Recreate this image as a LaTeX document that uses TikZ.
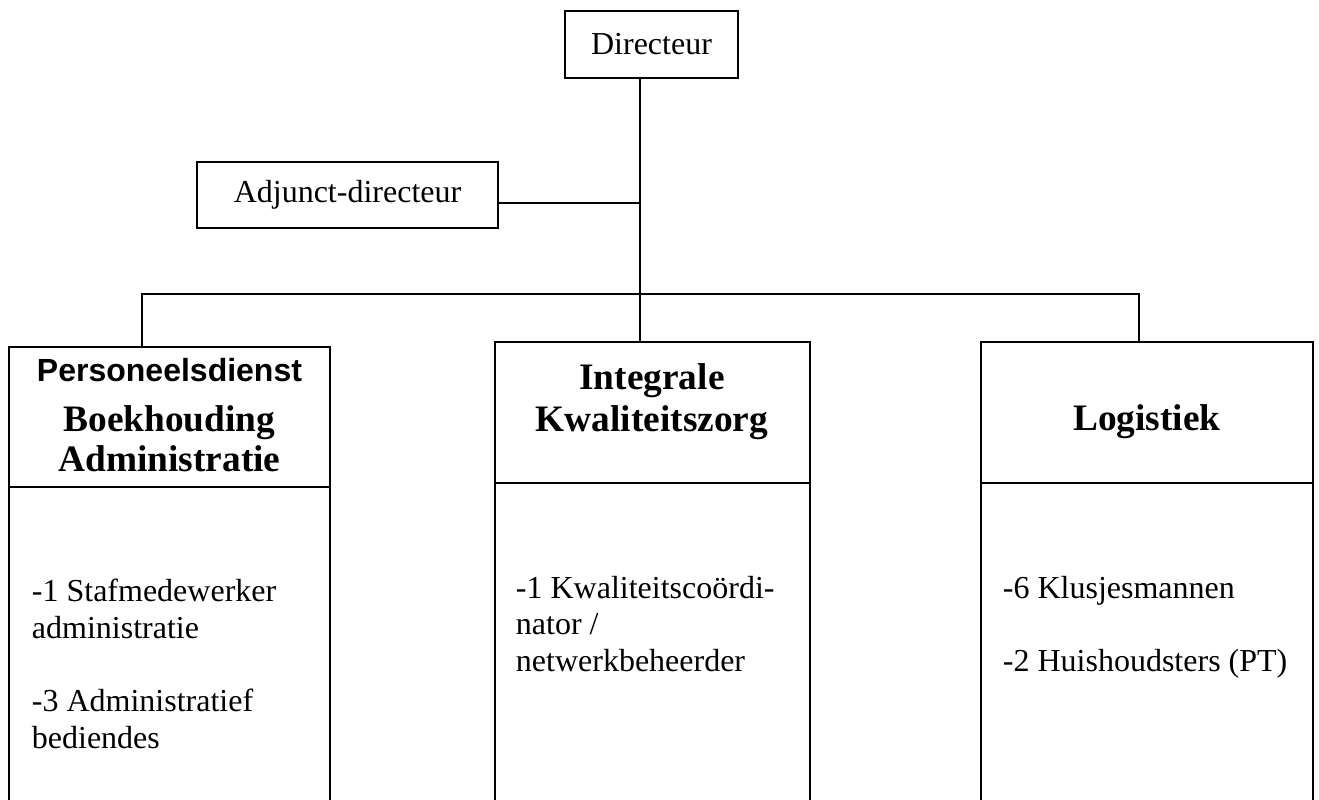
\documentclass[tikz,border=0pt]{standalone}
\usepackage{fontspec}
\setmainfont{Liberation Serif}
\newfontfamily\arialfont{Liberation Sans}
\usepackage{tikz}

\begin{document}
\begin{tikzpicture}[
        x=0.375pt, y=-0.375pt,
        line width=0.7pt,
        box/.style={draw, rectangle, inner sep=0pt},
        title/.style={inner sep=0pt, align=center, font=\bfseries\fontsize{14}{15.75}\selectfont},
        staff/.style={inner sep=0pt, align=left, anchor=north west, font=\fontsize{12}{13.8}\selectfont},
    ]
    \useasboundingbox (0,0) rectangle (1319,800);
    \clip (0,0) rectangle (1319,800);

    % top of the chart
    \node[box, minimum width=64.875pt, minimum height=25.125pt, font=\fontsize{12}{13.8}\selectfont] (dir) at (651.5,44.5) {Directeur};
    \node[box, minimum width=112.875pt, minimum height=24.75pt, font=\fontsize{12}{13.8}\selectfont] (adj) at (347.5,195) {Adjunct-directeur};

    % departments
    \node[box, minimum width=120.375pt, minimum height=52.5pt] (persHead) at (169.5,417) {};
    \node[box, minimum width=120.375pt, minimum height=124.875pt] (persBody) at (169.5,653.5) {};
    \node[box, minimum width=118.125pt, minimum height=52.875pt] (kwalHead) at (652.5,412.5) {};
    \node[box, minimum width=118.125pt, minimum height=126.375pt] (kwalBody) at (652.5,651.5) {};
    \node[box, minimum width=124.5pt, minimum height=52.875pt] (logHead) at (1147,412.5) {};
    \node[box, minimum width=124.5pt, minimum height=126.375pt] (logBody) at (1147,651.5) {};

    \node[title, anchor=north, font=\bfseries\fontsize{14}{15}\selectfont] (persTitle) at (169.5,357.5)
        {{\arialfont\fontsize{12}{15}\selectfont Personeelsdienst}\\[3.75pt]Boekhouding\\Administratie};
    \node[title, anchor=north] (kwalTitle) at (652,363) {Integrale\\Kwaliteitszorg};
    \node[title, anchor=base] (logTitle) at (1147,430) {Logistiek};

    \node[staff] (persStaff) at (31,578)
        {-1 Stafmedewerker\\administratie\\[13.8pt]-3 Administratief\\bediendes};
    \node[staff] (kwalStaff) at (515,575)
        {-1 Kwaliteitscoördi-\\nator /\\netwerkbeheerder};
    \node[staff] (logStaff) at (1002,575)
        {-6 Klusjesmannen\\[13.8pt]-2 Huishoudsters (PT)};

    % connectors
    \coordinate (trunk) at (640,294);
    \coordinate (busL) at (142,294);
    \coordinate (busR) at (1139,294);
    \draw (dir.south -| trunk) -- (kwalHead.north -| trunk);
    \draw ([yshift=-3pt]adj.east) -- ([yshift=-3pt]adj.east -| trunk);
    \draw (persHead.north -| busL) -- (busL) -- (busR) -- (logHead.north -| busR);
\end{tikzpicture}
\end{document}
